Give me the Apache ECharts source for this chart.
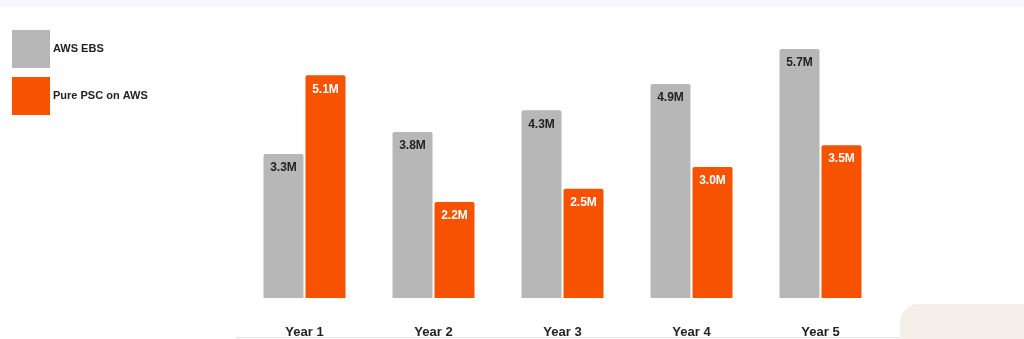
<!DOCTYPE html>
<html>
<head>
<meta charset="utf-8">
<script src="https://cdn.jsdelivr.net/npm/echarts@6/dist/echarts.min.js"></script>
<style>
  html, body { margin: 0; padding: 0; background: #fff; }
  #chart { width: 1024px; height: 339px; }
</style>
</head>
<body>
<div id="chart"></div>
<script>
// values in millions
const years = ['Year 1', 'Year 2', 'Year 3', 'Year 4', 'Year 5'];
const awsEbs = [3.3, 3.8, 4.3, 4.9, 5.7];
const purePsc = [5.1, 2.2, 2.5, 3.0, 3.5];

const chart = echarts.init(document.getElementById('chart'));

const labelFmt = function (p) {
  return p.value.toFixed(1) + 'M';
};

const option = {
  animation: false,
  textStyle: { fontFamily: 'Liberation Sans, Arial, sans-serif' },
  graphic: [
    // light band at the very top
    { type: 'rect', left: 0, top: 0, shape: { width: 1024, height: 7 }, style: { fill: '#f5f9fd' }, silent: true },
    // thin line under the labels
    { type: 'rect', left: 236, top: 337, shape: { width: 670, height: 1 }, style: { fill: '#e4e4e4' }, silent: true },
    // beige blob bottom right
    { type: 'rect', left: 900, top: 304, shape: { width: 140, height: 50, r: 18 }, style: { fill: '#f5efea' }, silent: true }
  ],
  legend: {
    orient: 'vertical',
    left: 12,
    top: 30,
    padding: 0,
    itemWidth: 38,
    itemHeight: 38,
    itemGap: 9,
    icon: 'rect',
    textStyle: { fontSize: 11, fontWeight: 'bold', color: '#222', padding: [0, 0, 0, -2] },
    data: ['AWS EBS', 'Pure PSC on AWS']
  },
  grid: {
    left: 240,
    right: 139,
    top: 36,
    bottom: 41,
    containLabel: false
  },
  xAxis: {
    type: 'category',
    data: years,
    axisLine: { show: false },
    axisTick: { show: false },
    axisLabel: { fontSize: 13, fontWeight: 'bold', color: '#222', margin: 28 }
  },
  yAxis: {
    type: 'value',
    min: 0,
    max: 6,
    show: false,
    splitLine: { show: false }
  },
  series: [
    {
      name: 'AWS EBS',
      type: 'bar',
      data: awsEbs,
      barWidth: 40,
      barGap: '5%',
      itemStyle: { color: '#b7b7b7', borderRadius: [2, 2, 0, 0] },
      label: {
        show: true,
        position: 'insideTop',
        distance: 8,
        fontSize: 12,
        fontWeight: 'bold',
        color: '#222',
        formatter: labelFmt
      }
    },
    {
      name: 'Pure PSC on AWS',
      type: 'bar',
      data: purePsc,
      barWidth: 40,
      itemStyle: { color: '#f65200', borderRadius: [2, 2, 0, 0] },
      label: {
        show: true,
        position: 'insideTop',
        distance: 8,
        fontSize: 12,
        fontWeight: 'bold',
        color: '#fff',
        formatter: labelFmt
      }
    }
  ]
};

chart.setOption(option);
</script>
</body>
</html>
